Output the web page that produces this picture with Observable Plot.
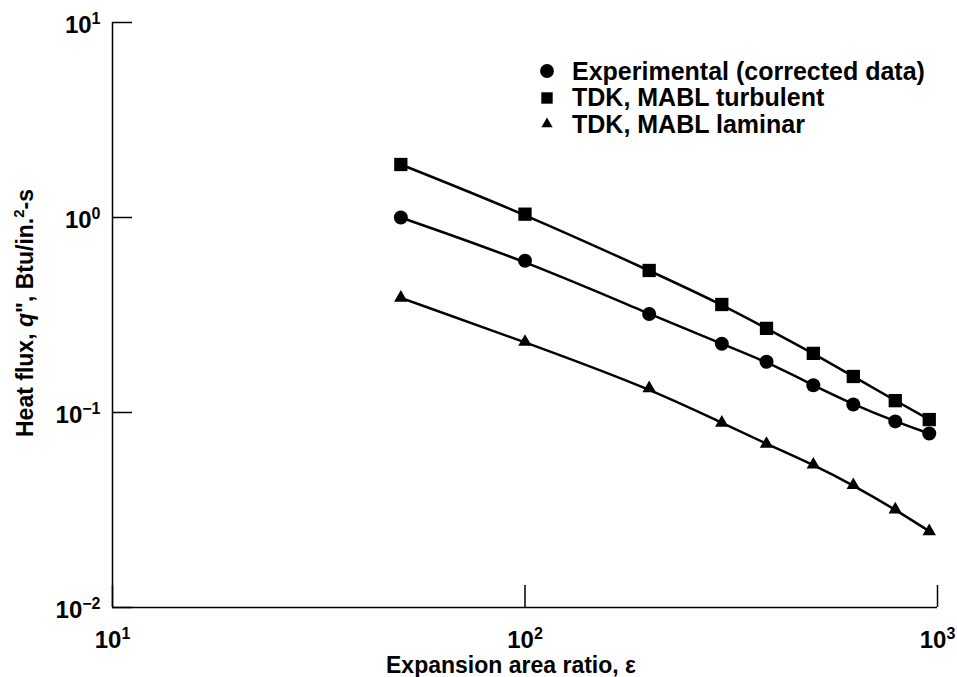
<!DOCTYPE html>
<html><head><meta charset="utf-8">
<script src="https://cdn.jsdelivr.net/npm/d3@7"></script>
<script src="https://cdn.jsdelivr.net/npm/@observablehq/plot@0.6"></script>
<style>
body{margin:0;background:#fff;}
#wrap{position:relative;width:957px;height:677px;font-family:"Liberation Sans",Arial,Helvetica,sans-serif;background:#fff;}
#legend{position:absolute;left:540px;top:58px;font-size:25px;font-weight:bold;color:#000;}
#legend .row{display:flex;align-items:center;height:26.5px;white-space:nowrap;}
#legend svg{width:14px;height:14px;margin-right:18px;flex:none;}
</style></head><body><div id="wrap"><div id="legend"></div></div>
<script>
// ---- data ----
const areaRatio    = [50, 100, 200, 300, 385, 500, 625, 790, 955];
const experimental = [1.0, 0.60, 0.32, 0.225, 0.182, 0.138, 0.110, 0.090, 0.078];
const turbulent    = [1.87, 1.04, 0.535, 0.358, 0.270, 0.201, 0.153, 0.115, 0.092];
const laminar      = [0.387, 0.230, 0.133, 0.0885, 0.069, 0.054, 0.0424, 0.0318, 0.0246];
const seriesNames   = ["Experimental (corrected data)", "TDK, MABL turbulent", "TDK, MABL laminar"];
const seriesSymbols = ["circle", "square", "triangle"];
const xTicks = [10, 100, 1000];
const xTickLabels = ["10^1", "10^2", "10^3"];
const yTicks = [10, 1, 0.1, 0.01];
const yTickLabels = ["10^1", "10^0", "10^−1", "10^−2"];
const xTitle = "Expansion area ratio, ε";
const yTitleParts = [["Heat flux, ", ""], ["q", "italic"], ["\", Btu/in.", ""], ["2", "sup"], ["-s", ""]];

const seriesValues = [experimental, turbulent, laminar];
const rows = [];
seriesValues.forEach((vals, i) => vals.forEach((v, j) => rows.push({series: seriesNames[i], x: areaRatio[j], y: v})));
const yTitle = yTitleParts.map(p => p[0]).join("");

const symR = {circle: 7, square: 7.5, triangle: 5};
const font = '"Liberation Sans", Arial, Helvetica, sans-serif';

const chart = Plot.plot({
  width: 957, height: 677,
  marginLeft: 112, marginRight: 20, marginTop: 22, marginBottom: 70,
  style: {fontFamily: font, fontSize: "24px", fontWeight: "bold", color: "#000", background: "#fff"},
  x: {type: "log", domain: [10, 1000]},
  y: {type: "log", domain: [0.01, 10]},
  marks: [
    Plot.ruleX([xTicks[0]], {stroke: "#000", strokeWidth: 1.5}),
    Plot.ruleY([yTicks[yTicks.length - 1]], {stroke: "#000", strokeWidth: 1.5}),
    Plot.axisX({ticks: xTicks, tickSize: -22, fill: "none", label: null, strokeWidth: 1.5}),
    Plot.axisX({ticks: xTicks, tickSize: 0, tickPadding: 23, stroke: "none", label: null, fontSize: 24,
      tickFormat: d => xTickLabels[xTicks.indexOf(d)]}),
    Plot.axisY({ticks: yTicks, tickSize: -20, fill: "none", label: null, strokeWidth: 1.5}),
    Plot.axisY({ticks: yTicks, tickSize: 0, tickPadding: 12, stroke: "none", label: null, dy: 3, fontSize: 24,
      tickFormat: d => yTickLabels[yTicks.indexOf(d)]}),
    Plot.line(rows, {x: "x", y: "y", z: "series", curve: "basis", stroke: "#000", strokeWidth: 2.5}),
    ...seriesNames.map((name, i) => Plot.dot(rows.filter(r => r.series === name), {
      x: "x", y: "y", symbol: seriesSymbols[i], r: symR[seriesSymbols[i]], fill: "#000", stroke: "none"})),
    Plot.text([xTitle], {frameAnchor: "bottom", textAnchor: "middle", lineAnchor: "middle", dy: 58, dx: -14, fontSize: 23, fontWeight: "bold"}),
    Plot.text([yTitle], {frameAnchor: "left", textAnchor: "middle", lineAnchor: "middle", rotate: -90, dx: -87, dy: -2, fontSize: 23, fontWeight: "bold"})
  ]
});

// superscripts in tick labels
d3.select(chart).selectAll("text").each(function() {
  const t = this.textContent;
  const m = /^10\^(.+)$/.exec(t);
  if (!m) return;
  this.textContent = "10";
  d3.select(this).append("tspan").attr("dy", "-9").attr("font-size", "16px").text(m[1]);
});
// rich y title
d3.select(chart).selectAll("text").each(function() {
  if (this.textContent !== yTitle) return;
  this.textContent = "";
  const sel = d3.select(this);
  let raised = false;
  yTitleParts.forEach(([s, kind]) => {
    const ts = sel.append("tspan").text(s);
    if (kind === "italic") ts.attr("font-style", "italic");
    if (kind === "sup") { ts.attr("font-size", "15px").attr("dy", "-9"); raised = true; }
    else if (raised) { ts.attr("dy", "9"); raised = false; }
  });
});

document.getElementById("wrap").prepend(chart);

// legend
const legend = d3.select("#legend");
const legendSizes = {circle: 150, square: 130, triangle: 55};
const symTypes = {circle: d3.symbolCircle, square: d3.symbolSquare, triangle: d3.symbolTriangle};
seriesNames.forEach((name, i) => {
  const row = legend.append("div").attr("class", "row");
  const svg = row.append("svg").attr("viewBox", "-7 -7 14 14");
  svg.append("path").attr("d", d3.symbol(symTypes[seriesSymbols[i]], legendSizes[seriesSymbols[i]])()).attr("fill", "#000");
  row.append("span").text(name);
});
</script></body></html>
